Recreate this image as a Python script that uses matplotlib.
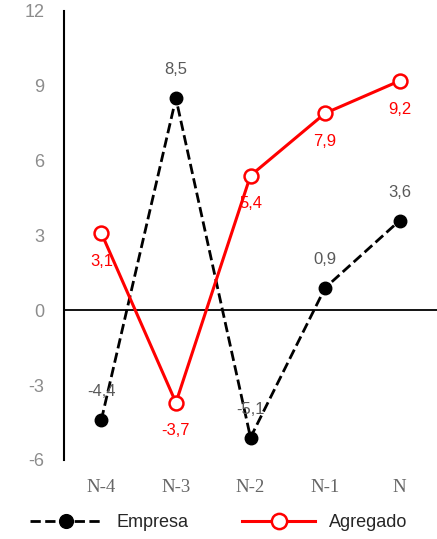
import matplotlib.pyplot as plt
import numpy as np

plt.rcParams['axes.unicode_minus'] = False

categories = ["N-4", "N-3", "N-2", "N-1", "N"]
empresa = [-4.4, 8.5, -5.1, 0.9, 3.6]
agregado = [3.1, -3.7, 5.4, 7.9, 9.2]

font = 'Liberation Sans'

fig = plt.figure(figsize=(4.37, 5.39), dpi=100)
ax = fig.add_axes([0.1465, 0.1466, 0.8535, 0.833])

x = np.arange(len(categories))
ax.plot(x, empresa, '--', color='black', lw=2, marker='o', ms=9,
        mfc='black', mec='black', label='Empresa', zorder=3)
ax.plot(x, agregado, '-', color='#ff0000', lw=2.2, marker='o', ms=10,
        mfc='white', mec='#ff0000', mew=1.8, label='Agregado', zorder=4)

for xi, v in zip(x, empresa):
    ax.annotate(f"{v:.1f}".replace('.', ','), (xi, v), xytext=(0, 15),
                textcoords='offset points', ha='center', va='bottom',
                color='#595959', fontsize=12, family=font)
for xi, v in zip(x, agregado):
    ax.annotate(f"{v:.1f}".replace('.', ','), (xi, v), xytext=(0, -15),
                textcoords='offset points', ha='center', va='top',
                color='#ff0000', fontsize=12, family=font)

ax.axhline(0, color='black', lw=1.3, zorder=1)
ax.set_xlim(-0.5, 4.5)
ax.set_ylim(-6, 12)
ax.set_yticks([-6, -3, 0, 3, 6, 9, 12])
ax.set_xticks(x)
ax.set_xticklabels(categories, family='Liberation Serif', fontsize=13.5, color='#666666')
for lab in ax.get_yticklabels():
    lab.set_family(font)
    lab.set_fontsize(13)
    lab.set_color('#8c8c8c')
ax.tick_params(axis='both', length=0)
ax.tick_params(axis='y', pad=14)
ax.tick_params(axis='x', pad=14)
for s in ['top', 'right', 'bottom']:
    ax.spines[s].set_visible(False)
ax.spines['left'].set_linewidth(1.5)

leg = fig.legend(loc='lower center', bbox_to_anchor=(0.5, -0.015), ncol=2, frameon=False,
                 handlelength=4, columnspacing=3, markerscale=1.1,
                 prop={'family': font, 'size': 13})
for t in leg.get_texts():
    t.set_color('#262626')

fig.savefig('out.png', dpi=100)
